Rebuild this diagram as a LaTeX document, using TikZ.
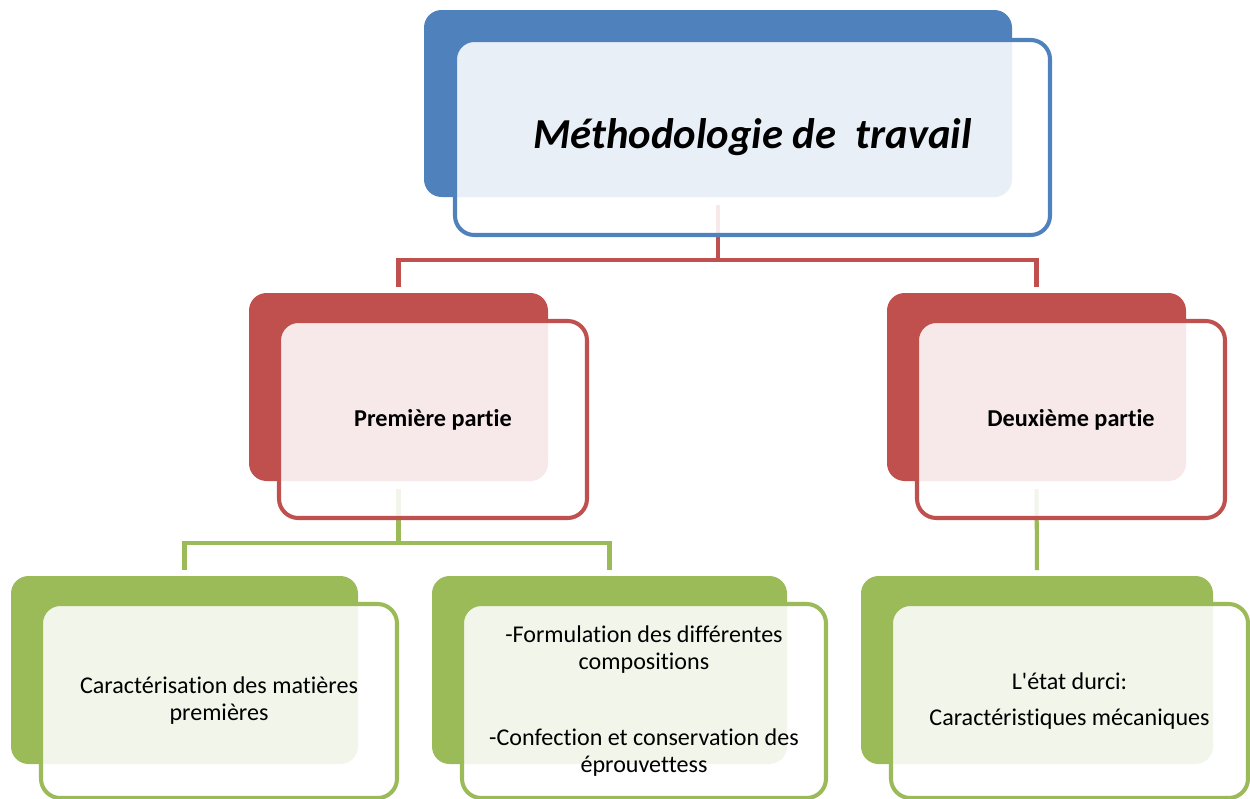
\documentclass[tikz,border=0pt]{standalone}
\usepackage{fontspec}
\setmainfont{Carlito}[Ligatures={TeX,NoCommon}]
\newfontfamily\carlito{Carlito}[Ligatures=NoCommon]
\usetikzlibrary{calc,positioning,backgrounds}
\definecolor{bleu}{HTML}{4F81BD}
\definecolor{rouge}{HTML}{C0504D}
\definecolor{vert}{HTML}{9BBB59}
\newcommand{\titre}{\fontsize{24.3}{28}\selectfont\bfseries\itshape}
\newcommand{\partie}{\fontsize{13.8}{16}\selectfont\bfseries}
\newcommand{\feuille}{\carlito\fontsize{13.7}{15.3}\selectfont}
\tikzset{
	bb size/.style 2 args={minimum width=#1*0.02cm, minimum height=#2*0.02cm},
	bb back/.style={fill=#1, rounded corners=10pt, inner sep=0pt, outer sep=0pt, anchor=north west},
	bb front/.style={draw=#1, line width=2.3pt, fill=white, fill opacity=.88, text opacity=1,
		rounded corners=11pt, inner sep=0pt, outer sep=0pt, align=center},
	link/.style={draw=#1, line width=2.3pt},
	link out/.style={link=#1, shorten <=0.16cm},
	link in/.style={link=#1, shorten >=0.12cm}
}

\begin{document}
\begin{tikzpicture}[x=0.02cm, y=-0.02cm]
	\useasboundingbox (0,0) rectangle (1250,798);
	% niveau 1
	\node[bb back=bleu, bb size={588}{187}] (Mb) at (424,10) {};
	\node[bb front=bleu, bb size={595}{195}, font=\titre, below right=0.6cm and 0.62cm of Mb.north west] (M) {M\'ethodologie de\ \ travail};
	% niveau 2
	\node[bb back=rouge, bb size={299}{188}] (P1b) at (249,293) {};
	\node[bb front=rouge, bb size={308}{197}, font=\partie, below right=0.56cm and 0.6cm of P1b.north west] (P1) {Premi\`ere partie};
	\node[bb back=rouge, bb size={299}{188}] (P2b) at (887,293) {};
	\node[bb front=rouge, bb size={308}{197}, font=\partie, below right=0.56cm and 0.6cm of P2b.north west] (P2) {Deuxi\`eme partie};
	% niveau 3
	\node[bb back=vert, bb size={347}{188}] (V1b) at (11,576) {};
	\node[bb front=vert, bb size={356}{194}, font=\feuille, below right=0.56cm and 0.6cm of V1b.north west] (V1)
		{Caract\'erisation des mati\`eres\\premi\`eres};
	\node[bb back=vert, bb size={355}{188}] (V2b) at (432,576) {};
	\node[bb front=vert, bb size={364}{194}, font=\feuille, below right=0.56cm and 0.6cm of V2b.north west] (V2)
		{-Formulation des diff\'erentes\\compositions\\[28pt]-Confection et conservation des\\\'eprouvettess};
	\node[bb back=vert, bb size={352}{188}] (V3b) at (861,576) {};
	\node[bb front=vert, bb size={357}{194}, font=\feuille, below right=0.56cm and 0.6cm of V3b.north west] (V3)
		{L'\'etat durci:\\[5.5pt]Caract\'eristiques m\'ecaniques};
	% liens
	\begin{scope}[on background layer]
		\draw[link out=rouge] (Mb.south) -- ++(0,63) coordinate (Mj);
		\draw[link in=rouge] (Mj) -| (P1b.north);
		\draw[link in=rouge] (Mj) -| (P2b.north);
		\draw[link out=vert] (P1b.south) -- ++(0,62) coordinate (P1j);
		\draw[link in=vert] (P1j) -| (V1b.north);
		\draw[link in=vert] (P1j) -| (V2b.north);
		\draw[link out=vert, link in=vert] (P2b.south) -- (V3b.north);
	\end{scope}
\end{tikzpicture}
\end{document}
